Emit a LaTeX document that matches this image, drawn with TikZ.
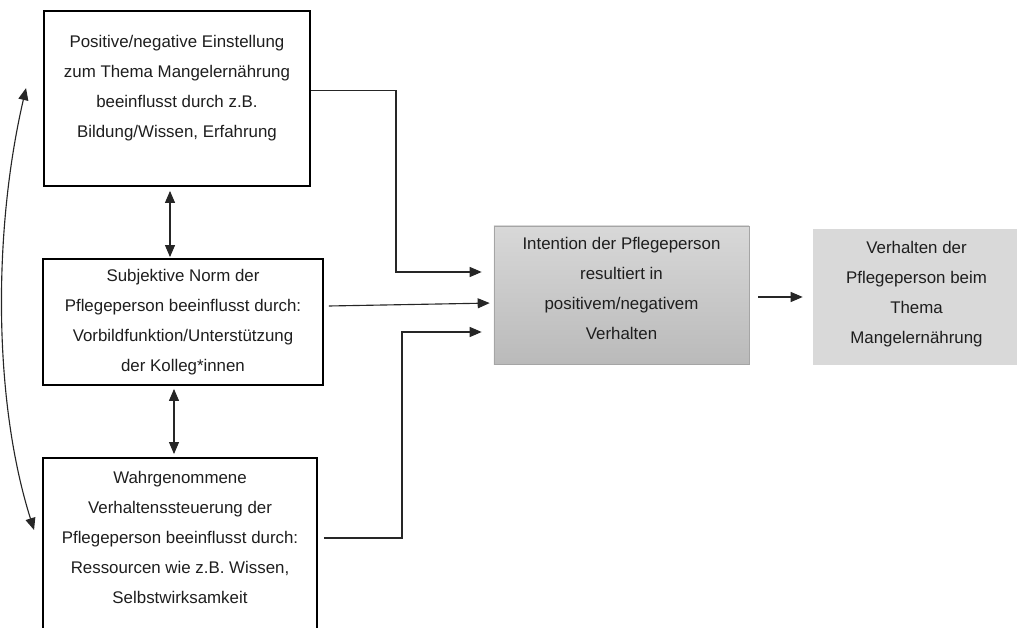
\documentclass[tikz,border=0pt]{standalone}
\usepackage{fontspec}
\setmainfont{Liberation Sans}
\usepackage{tikz}
\usetikzlibrary{arrows.meta}
\definecolor{inttop}{RGB}{216,216,216}
\definecolor{intbot}{RGB}{186,186,186}
\definecolor{intline}{RGB}{165,165,165}
\definecolor{behfill}{RGB}{217,217,217}
\definecolor{txt}{RGB}{30,30,30}

\begin{document}
\begin{tikzpicture}[x=0.025cm, y=-0.025cm,
        factor/.style={draw, line width=1.3pt, align=center, text=txt, inner sep=0pt,
                font=\fontsize{12}{21.5}\selectfont},
        result/.style={align=center, text=txt, inner sep=0pt,
                font=\fontsize{12}{21.5}\selectfont},
        conn/.style={draw=black!85, line width=0.8pt, -{Triangle[length=0.3cm,width=0.25cm]}},
        both/.style={conn, {Triangle[length=0.3cm,width=0.25cm]}-{Triangle[length=0.3cm,width=0.25cm]}}]
        \useasboundingbox (0,0) rectangle (1017,628);
        \clip (0,0) rectangle (1017,628);
        \node (att) [factor, minimum width=6.65cm, minimum height=4.375cm] at (177,98.5)
                {Positive/negative Einstellung\\zum Thema Mangelern\"ahrung\\beeinflusst durch z.B.\\Bildung/Wissen, Erfahrung\\[-0.15cm]};
        \node (norm) [factor, minimum width=7cm, minimum height=3.15cm] at (183,322)
                {Subjektive Norm der\\Pflegeperson beeinflusst durch:\\Vorbildfunktion/Unterst\"utzung\\der Kolleg*innen};
        \node (ctrl) [factor, minimum width=6.85cm, minimum height=4.55cm] at (180,549)
                {Wahrgenommene\\Verhaltenssteuerung der\\Pflegeperson beeinflusst durch:\\Ressourcen wie z.B. Wissen,\\Selbstwirksamkeit\\[-0.175cm]};
        \node (int) [result, draw=intline, top color=inttop, bottom color=intbot,
                minimum width=6.375cm, minimum height=3.45cm] at (621.5,295)
                {Intention der Pflegeperson\\resultiert in\\positivem/negativem\\Verhalten\\[-0.425cm]};
        \node (beh) [result, fill=behfill, minimum width=5.175cm, minimum height=3.4cm] at (916.5,297)
                {Verhalten der\\Pflegeperson beim\\Thema\\Mangelern\"ahrung\\[-0.525cm]};
        \coordinate (j1) at (396,272);
        \coordinate (j3) at (402,332);
        % into the intention
        \draw[conn, shorten >=0.3cm] ([yshift=0.19cm]att.east) -| (j1) -- (j1 -| int.west);
        \draw[conn, shorten >=0.1cm] ([xshift=0.125cm,yshift=0.4cm]norm.east) -- ([yshift=-0.2cm]int.west);
        \draw[conn, shorten >=0.3cm] ([xshift=0.15cm,yshift=0.275cm]ctrl.east) -| (j3) -- (j3 -| int.west);
        \draw[conn, shorten <=0.225cm, shorten >=0.25cm] (int.east |- beh.west) -- (beh.west);
        % between the factors
        \draw[both, shorten <=0.1cm, shorten >=0.025cm] ([xshift=-0.175cm]att.south) -- ([xshift=-0.175cm]att.south |- norm.north);
        \draw[both, shorten <=0.075cm, shorten >=0.075cm] ([xshift=-0.225cm]norm.south) -- ([xshift=-0.225cm]norm.south |- ctrl.north);
        \draw[both] ([xshift=-0.425cm,yshift=0.26cm]att.west) .. controls +(-33,142) and +(-41,-130) .. ([xshift=-0.2cm,yshift=0.475cm]ctrl.west);
\end{tikzpicture}
\end{document}
